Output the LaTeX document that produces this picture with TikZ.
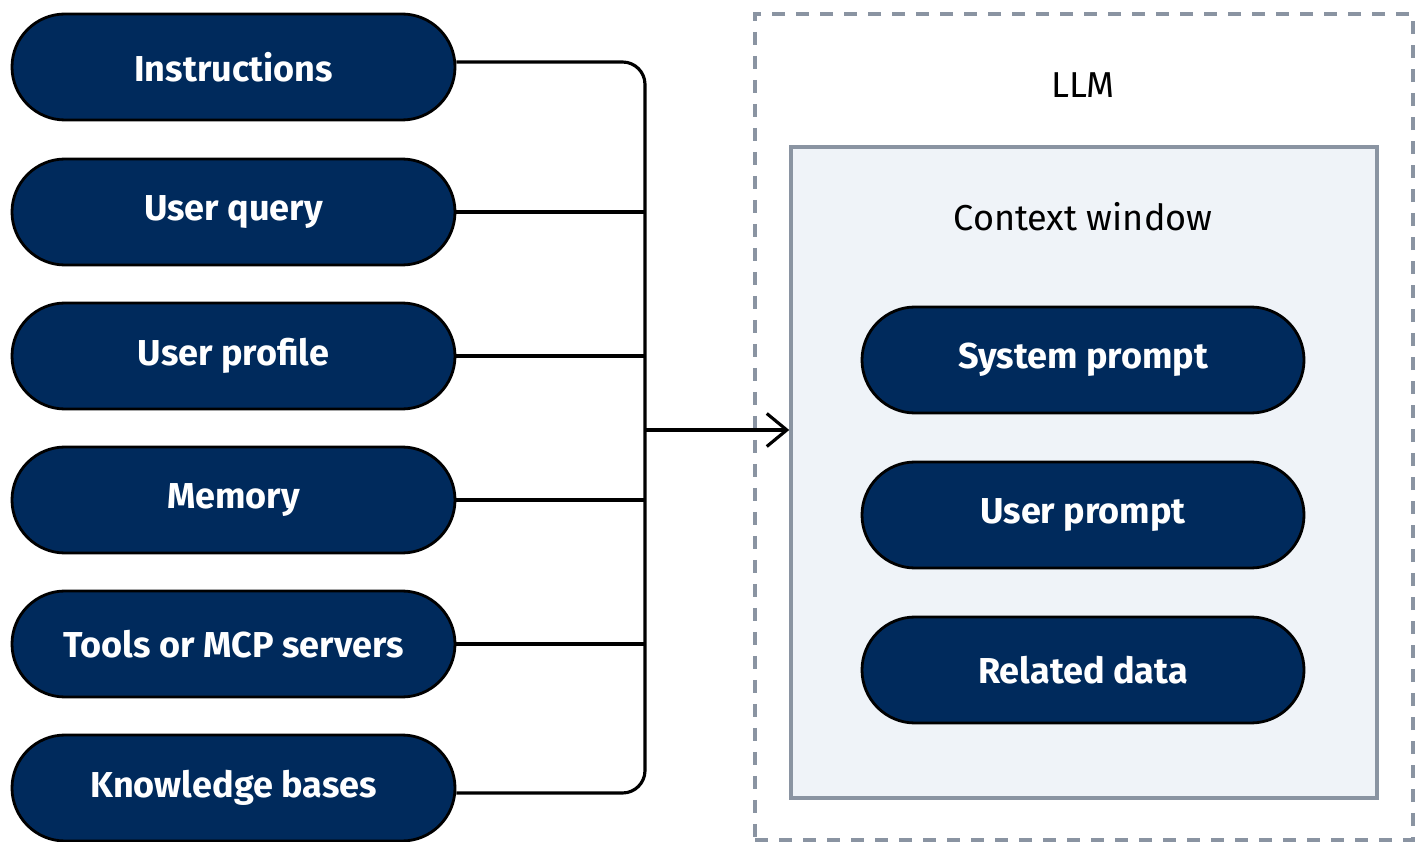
\documentclass[tikz,border=0pt]{standalone}
\usepackage{fontspec}
\setmainfont{Fira Sans}
\usetikzlibrary{arrows.meta}
\definecolor{navy}{HTML}{002A5C}
\definecolor{boxgray}{HTML}{8A94A2}
\definecolor{cwfill}{HTML}{EFF3F8}
\tikzset{
  pill/.style={draw=black, line width=1.6pt, fill=navy, text=white, font=\fontsize{20.5}{24}\selectfont\bfseries,
    minimum width=8.86cm, minimum height=2.12cm, rounded corners=1.06cm, inner sep=0pt},
  conn/.style={draw=black, line width=1.8pt},
  lbl/.style={font=\fontsize{20.5}{24}\selectfont, text=black},
}
\begin{document}
\begin{tikzpicture}
\useasboundingbox (0,0) rectangle (28.5,-16.84);
% LLM box
\node[draw=boxgray, line width=1.9pt, dash pattern=on 0.26cm off 0.22cm, minimum width=13.16cm, minimum height=16.52cm, inner sep=0pt] (llm) at (21.68,-8.54) {};
\node[lbl] (llmlbl) at (21.66,-1.70) {LLM};
% Context window
\node[draw=boxgray, line width=2pt, fill=cwfill, minimum width=11.72cm, minimum height=13.02cm, inner sep=0pt] (cw) at (21.68,-9.45) {};
\node[lbl] (cwlbl) at (21.66,-4.34) {Context window};
% left pills
\node[pill] (inst) at (4.67,-1.34) {Instructions};
\node[pill] (uq) at (4.67,-4.24) {User query};
\node[pill] (up) at (4.67,-7.12) {User profile};
\node[pill] (mem) at (4.67,-10.00) {Memory};
\node[pill] (tools) at (4.67,-12.88) {Tools or MCP servers};
\node[pill] (kb) at (4.67,-15.76) {Knowledge bases};
% right pills
\node[pill, minimum width=8.84cm] (sp) at (21.66,-7.20) {System prompt};
\node[pill, minimum width=8.84cm] (upr) at (21.66,-10.30) {User prompt};
\node[pill, minimum width=8.84cm] (rd) at (21.66,-13.40) {Related data};
% bus
\coordinate (bus) at (12.9,-8.6);
\coordinate (instout) at ([yshift=0.1cm]inst.east);
\coordinate (kbout) at ([yshift=-0.1cm]kb.east);
\draw[conn, rounded corners=0.45cm] (instout) -- (bus |- instout) -- (bus |- kbout) -- (kbout);
\draw[conn] (uq.east) -- (bus |- uq.east);
\draw[conn] (up.east) -- (bus |- up.east);
\draw[conn] (mem.east) -- (bus |- mem.east);
\draw[conn] (tools.east) -- (bus |- tools.east);
\draw[conn, -{Straight Barb[length=0.4cm, width=0.66cm, line width=1.8pt]}] (bus) -- (cw.west |- bus);
\end{tikzpicture}
\end{document}
